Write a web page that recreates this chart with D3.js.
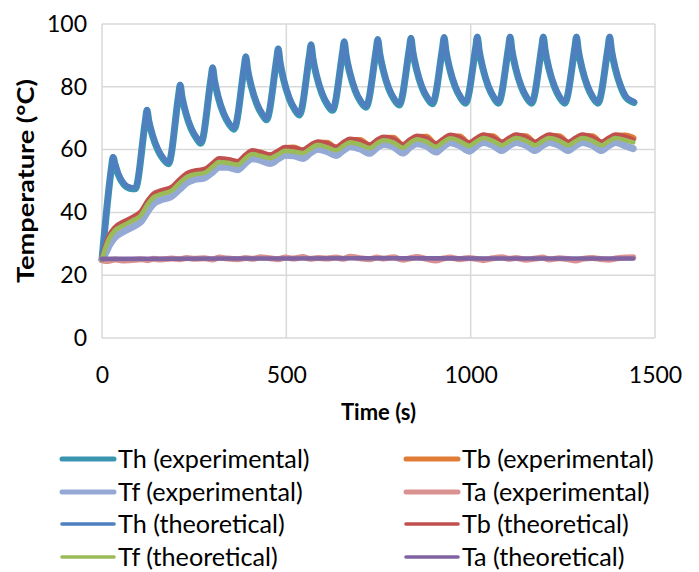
<!DOCTYPE html>
<html><head><meta charset="utf-8">
<script src="https://cdn.jsdelivr.net/npm/d3@7"></script>
<style>body{margin:0;background:#fff}svg{display:block}text{font-family:Lato,"Open Sans",sans-serif;fill:#000}</style>
</head><body><svg id="c" width="699" height="572"></svg>
<script>
const xTicks=[0,500,1000,1500];
const yTicks=[0,20,40,60,80,100];
const seriesNames=["Th (experimental)","Tb (experimental)","Tf (experimental)","Ta (experimental)","Th (theoretical)","Tb (theoretical)","Tf (theoretical)","Ta (theoretical)"];

const thTime=[0,26,30,35,45,60,75,90,
118,122,127,137,152,167,180,
208,212,217,227,242,257,268,
296,300,305,315,330,345,358,
386,390,395,405,420,435,446,
474,478,483,493,508,523,535,
563,567,572,582,597,612,625,
653,657,662,672,687,702,716,
744,748,753,763,778,793,806,
834,838,843,853,868,883,896,
924,928,933,943,958,973,986,
1014,1018,1023,1033,1048,1063,1075,
1103,1107,1112,1122,1137,1152,1165,
1193,1197,1202,1212,1227,1242,1255,
1283,1287,1292,1302,1317,1332,1345,
1373,1377,1382,1392,1407,1422,1437,1443];
const thExp=[25,54.5,57.5,55.5,51.8,48.8,47.7,47.5,
69.5,72.5,69.1,64.5,59.8,56.9,55.5,
77.5,80.5,76.8,71.8,66.6,63.5,62,
83,86,82.1,76.8,71.4,68.1,66.5,
86.5,89.5,85.5,80.1,74.5,71.1,69.5,
89,92,87.8,82.1,76.3,72.7,71,
90.3,93.3,89.1,83.5,77.7,74.2,72.5,
91.3,94.3,90.1,84.5,78.7,75.2,73.5,
92,95,90.8,85.2,79.4,75.9,74.2,
92.4,95.4,91.2,85.6,79.8,76.3,74.6,
92.6,95.6,91.4,85.8,80,76.5,74.8,
92.8,95.8,91.6,85.9,80.1,76.5,74.8,
92.8,95.8,91.6,85.9,80.1,76.5,74.8,
92.8,95.8,91.6,85.9,80.1,76.5,74.8,
92.8,95.8,91.6,85.9,80.1,76.5,74.8,
92.8,95.8,91.6,85.9,80.1,76.5,75.3,75];
const thTheo=[25,54.8,57.8,56,52.3,49.3,48.1,47.9,
69.8,72.8,69.6,65,60.3,57.4,55.9,
77.8,80.8,77.3,72.3,67.1,64,62.4,
83.3,86.3,82.6,77.3,71.9,68.6,66.9,
86.8,89.8,86,80.6,75,71.6,69.9,
89.3,92.3,88.3,82.6,76.8,73.2,71.4,
90.6,93.6,89.6,84,78.2,74.7,72.9,
91.6,94.6,90.6,85,79.2,75.7,73.9,
92.3,95.3,91.3,85.7,79.9,76.4,74.6,
92.7,95.7,91.7,86.1,80.3,76.8,75,
92.9,95.9,91.9,86.3,80.5,77,75.2,
93.1,96.1,92.1,86.4,80.6,77,75.2,
93.1,96.1,92.1,86.4,80.6,77,75.2,
93.1,96.1,92.1,86.4,80.6,77,75.2,
93.1,96.1,92.1,86.4,80.6,77,75.2,
93.1,96.1,92.1,86.4,80.6,77,75.7,75.4];

const bandTime=[0,10,20,35,60,90,105,125,140,160,
190,210,230,250,278,300,318,340,368,390,
408,430,456,478,497,520,545,565,585,610,
635,655,673,700,726,746,764,790,816,836,
854,880,906,926,944,970,996,1016,1034,1060,
1085,1105,1123,1150,1175,1195,1213,1240,1265,1285,
1303,1330,1355,1375,1393,1420,1441];
const tfTheo=[25,29,31.8,34.2,36,37.8,39,42.8,44.8,45.8,
47,49.3,51.3,52.1,52.6,54.5,56,55.8,55.2,57.3,
58.6,58,57.3,58.5,59.6,59.4,58.9,60.3,61.5,60.8,
59.8,61.2,62.3,61.6,60.5,62,63,62.3,60.6,62.2,
63.3,62.5,60.9,62.4,63.6,62.7,61.2,62.6,63.7,62.8,
61.4,62.7,63.7,62.8,61.4,62.7,63.7,62.8,61.4,62.7,
63.7,62.8,61.4,62.7,63.7,63,62.3];
const tbTheo=[25,29.8,32.8,35.3,37.2,39,40.3,44,46,47,
48.2,50.5,52.5,53.3,53.8,55.7,57.2,57,56.3,58.5,
59.8,59.2,58.4,59.7,60.8,60.6,60,61.5,62.6,62,
60.9,62.4,63.4,62.8,61.6,63.1,64.1,63.5,61.7,63.3,
64.4,63.7,62,63.5,64.7,63.9,62.3,63.7,64.8,64,
62.5,63.8,64.8,64,62.5,63.8,64.8,64,62.5,63.8,
64.8,64,62.5,63.8,64.8,64.1,63.2];
const tbExp=[25,29.3,32.2,34.7,36.5,38.3,39.5,43.2,45.3,46.4,
47.5,49.8,51.8,52.7,53.2,55,56.6,56.6,55.8,57.8,
59.2,59,57.9,59,60.2,60.6,59.5,60.9,62.1,62.1,
60.4,61.8,62.9,63,61.1,62.6,63.6,63.7,61.2,62.8,
63.9,64,61.5,63,64.2,64.1,61.8,63.2,64.3,64.2,
62,63.3,64.3,64.2,62,63.3,64.3,64.2,62,63.3,
64.3,64.2,62,63.3,64.3,64.4,63.6];
const tfExp=[25,27,29.5,32,34,35.8,37,40.5,42.8,44,
45.2,47.3,49.4,50.4,51,52.8,54.4,54.4,53.6,55.8,
57.1,56.6,55.6,57,58.2,58,57.2,58.9,60.1,59.4,
58.1,59.8,60.9,60.2,58.8,60.6,61.6,60.9,58.9,60.8,
61.9,61.1,59.2,61,62.2,61.3,59.5,61.2,62.3,61.4,
59.7,61.3,62.3,61.4,59.7,61.3,62.3,61.4,59.7,61.3,
62.3,61.4,59.7,61.3,62.3,61.2,60.3];
const taExp=[24.8,24.5,24.6,25.0,24.7,24.9,25.1,24.8,25.2,25.0,
25.3,25.1,25.5,25.2,25.4,25.0,25.6,25.3,25.1,25.5,
25.2,25.7,25.4,25.1,25.6,25.3,25.8,25.2,25.5,25.3,
25.6,25.2,25.9,25.4,25.1,25.6,25.3,25.7,24.9,25.4,
25.8,25.2,24.7,25.3,25.6,25.1,25.5,25.2,24.8,25.4,
25.7,25.2,25.5,24.9,25.3,25.6,25.0,25.4,25.1,24.7,
25.2,25.5,25.1,24.9,25.3,25.6,25.7];
const taTime=[0,360,720,1080,1441];
const taTheo=[25.2,25.3,25.4,25.3,25.3];

const colors=["#3A95B1","#E07C35","#94AAD5","#D99290","#4F7FBF","#C0504D","#9BBB59","#8064A2"];
const widths=[7,6.5,7,6,5,4.6,4.6,4.6];

const series=[
  d3.zip(thTime,thExp), d3.zip(bandTime,tbExp), d3.zip(bandTime,tfExp), d3.zip(bandTime,taExp),
  d3.zip(thTime,thTheo), d3.zip(bandTime,tbTheo), d3.zip(bandTime,tfTheo), d3.zip(taTime,taTheo)
];

const svg=d3.select("#c");
const x=d3.scaleLinear().domain([0,1500]).range([102,655]);
const y=d3.scaleLinear().domain([0,100]).range([338,24]);

const grid=svg.append("g");
grid.selectAll("line.h").data(yTicks).join("line")
  .attr("x1",x(0)).attr("x2",x(1500)).attr("y1",d=>y(d)).attr("y2",d=>y(d))
  .attr("stroke","#D9D9D9").attr("stroke-width",1.5);
grid.selectAll("line.v").data(xTicks).join("line")
  .attr("y1",y(0)).attr("y2",y(100)).attr("x1",d=>x(d)).attr("x2",d=>x(d))
  .attr("stroke","#D9D9D9").attr("stroke-width",1.5);

const ya=svg.append("g").attr("transform",`translate(${x(0)},0)`)
  .call(d3.axisLeft(y).tickValues(yTicks).tickFormat(d3.format("d")).tickSize(0).tickPadding(15));
const xa=svg.append("g").attr("transform",`translate(0,${y(0)})`)
  .call(d3.axisBottom(x).tickValues(xTicks).tickFormat(d3.format("d")).tickSize(0).tickPadding(29));
[ya,xa].forEach(a=>{a.select(".domain").remove();a.selectAll("text").attr("font-size",23).attr("font-family","Lato, sans-serif").attr("fill","#000");});

const line=d3.line().x(d=>x(d[0])).y(d=>y(d[1])).curve(d3.curveMonotoneX);
svg.append("g").selectAll("path").data(series).join("path")
  .attr("d",line).attr("fill","none")
  .attr("stroke",(d,i)=>colors[i]).attr("stroke-width",(d,i)=>widths[i])
  .attr("stroke-linejoin","round").attr("stroke-linecap","round");

svg.append("text").attr("x",(x(0)+x(1500))/2).attr("y",420).attr("text-anchor","middle")
  .attr("font-size",22).attr("font-weight","bold").text("Time (s)");
svg.append("text").attr("transform",`translate(34,${(y(0)+y(100))/2}) rotate(-90)`)
  .attr("text-anchor","middle").attr("font-size",23).attr("font-weight","bold")
  .attr("textLength",204).attr("lengthAdjust","spacingAndGlyphs").text("Temperature (°C)");

const legCols=[60,404];
const legRows=[459,492,524,557];
const leg=svg.append("g").selectAll("g").data(seriesNames).join("g")
  .attr("transform",(d,i)=>`translate(${legCols[i%2]},${legRows[Math.floor(i/2)]})`);
leg.append("line").attr("x1",2).attr("x2",54).attr("stroke",(d,i)=>colors[i])
  .attr("stroke-width",(d,i)=>i<4?5:3.6).attr("stroke-linecap","round");
leg.append("text").attr("x",58).attr("dy","0.35em").attr("font-size",25.2).text(d=>d);
</script></body></html>
